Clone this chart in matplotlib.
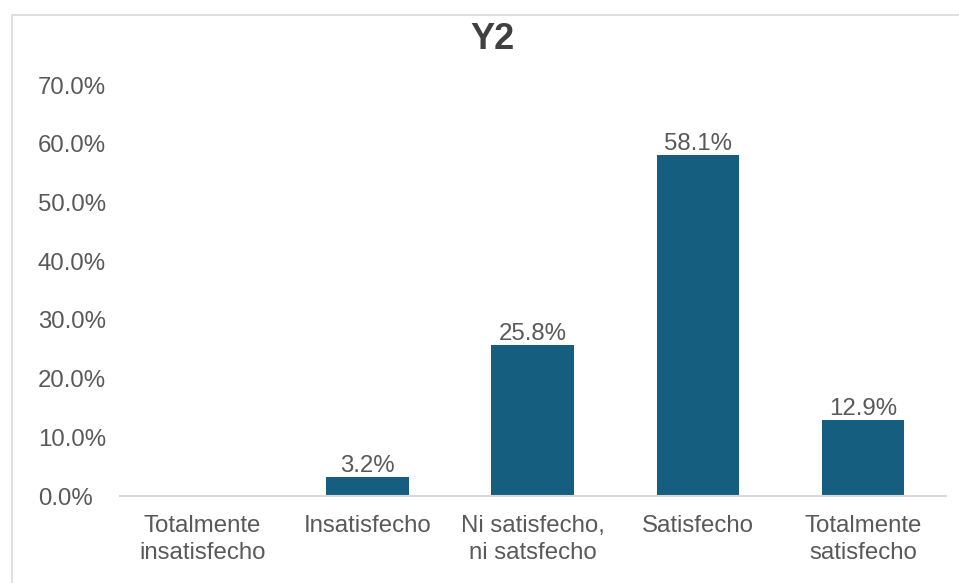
import matplotlib.pyplot as plt
from matplotlib.patches import Rectangle
from matplotlib.ticker import PercentFormatter

categorias = ['Totalmente\ninsatisfecho', 'Insatisfecho', 'Ni satisfecho,\nni satsfecho',
              'Satisfecho', 'Totalmente\nsatisfecho']
porcentajes = [0.0, 3.2, 25.8, 58.1, 12.9]
marcas_y = [0, 10, 20, 30, 40, 50, 60, 70]


def main():
    plt.rcParams['font.family'] = ['Liberation Sans', 'DejaVu Sans']
    gris = '#595959'
    tam = 17.3

    fig = plt.figure(figsize=(9.59, 5.83), dpi=100)
    ax = fig.add_axes([0.125, 0.149, 0.861, 0.705])

    # marco del gráfico (solo se ven borde superior e izquierdo)
    fig.patches.append(Rectangle((0.0125, -0.1), 1.2, 1.074, transform=fig.transFigure,
                                 fill=False, edgecolor='#D9D9D9', linewidth=1.2))

    x = range(len(categorias))
    barras = ax.bar(x, porcentajes, width=0.5, color='#165E80')

    # etiquetas de datos (la primera categoría no tiene valor)
    for b, v in zip(barras, porcentajes):
        if v > 0:
            ax.annotate(f'{v:.1f}%', (b.get_x() + b.get_width() / 2, v),
                        xytext=(0, 0), textcoords='offset points',
                        ha='center', va='bottom', fontsize=tam, color=gris)

    ax.set_xlim(-0.5, len(categorias) - 0.5)
    ax.set_ylim(0, 70)
    ax.set_yticks(marcas_y)
    ax.yaxis.set_major_formatter(PercentFormatter(decimals=1))
    ax.set_xticks(list(x))
    ax.set_xticklabels(categorias, linespacing=1.28)

    for s in ['top', 'right', 'left']:
        ax.spines[s].set_visible(False)
    ax.spines['bottom'].set_color('#D9D9D9')
    ax.spines['bottom'].set_linewidth(1.5)

    ax.tick_params(axis='both', length=0, labelsize=tam, labelcolor=gris)
    ax.tick_params(axis='y', pad=59)
    ax.tick_params(axis='x', pad=13.5)
    for t in ax.get_yticklabels():
        t.set_horizontalalignment('left')

    fig.text(0.514, 0.933, 'Y2', ha='center', va='center', fontsize=26,
             fontweight='bold', color='#404040')

    fig.savefig('out.png', dpi=100, facecolor='white')


if __name__ == '__main__':
    main()
